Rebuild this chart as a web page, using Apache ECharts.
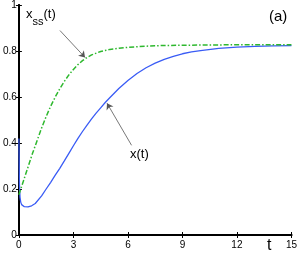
<!DOCTYPE html>
<html><head><meta charset="utf-8">
<script src="https://cdn.jsdelivr.net/npm/echarts@6/dist/echarts.min.js"></script>
<style>html,body{margin:0;padding:0;background:#fff}#c{width:300px;height:254px}</style>
</head><body><div id="c"></div>
<script>
const tBlue = [0, 0.03, 0.06, 0.1, 0.15, 0.2, 0.3, 0.4, 0.5, 0.6, 0.7, 0.8, 0.9, 1, 1.25, 1.5, 1.75, 2, 2.25, 2.5, 2.75, 3, 3.25, 3.5, 3.75, 4, 4.25, 4.5, 4.75, 5, 5.5, 6, 6.5, 7, 7.5, 8, 8.5, 9, 9.5, 10, 11, 12, 13, 14, 15];
const xBlue = [0.42, 0.22, 0.165, 0.143, 0.132, 0.127, 0.123, 0.122, 0.122, 0.124, 0.127, 0.131, 0.137, 0.145, 0.17, 0.2, 0.229, 0.26, 0.29, 0.322, 0.355, 0.388, 0.42, 0.45, 0.478, 0.505, 0.53, 0.553, 0.576, 0.597, 0.637, 0.672, 0.702, 0.727, 0.747, 0.764, 0.777, 0.788, 0.796, 0.802, 0.811, 0.817, 0.82, 0.822, 0.823];
const tGreen = [0, 0.25, 0.5, 0.75, 1, 1.25, 1.5, 1.75, 2, 2.25, 2.5, 2.75, 3, 3.25, 3.5, 3.75, 4, 4.5, 5, 5.5, 6, 7, 8, 10, 12, 15];
const xGreen = [0.175, 0.235, 0.295, 0.355, 0.41, 0.465, 0.515, 0.56, 0.6, 0.636, 0.668, 0.696, 0.72, 0.741, 0.758, 0.772, 0.783, 0.798, 0.807, 0.812, 0.816, 0.821, 0.824, 0.826, 0.827, 0.827];
const xTicks = [0, 3, 6, 9, 12, 15];
const yTicks = [0, 0.2, 0.4, 0.6, 0.8, 1];

const chart = echarts.init(document.getElementById('c'), null, {renderer: 'canvas'});
const font = 'Liberation Sans, Arial, sans-serif';
const axisLine = {show: true, lineStyle: {color: '#000', width: 2}};
const tickIn = {show: true, inside: true, length: 3, lineStyle: {color: '#000', width: 1}};
chart.setOption({
  animation: false,
  grid: {left: 15, right: 6, top: 4, bottom: 19, containLabel: false},
  xAxis: [
    {type: 'value', min: 0, max: 15, interval: 3, position: 'bottom', axisLine, axisTick: tickIn,
     splitLine: {show: false}, axisLabel: {fontSize: 10, color: '#000', fontFamily: font, margin: 5}},
    {type: 'value', min: 0, max: 15, interval: 3, position: 'top', axisLine, axisTick: tickIn,
     splitLine: {show: false}, axisLabel: {show: false}}
  ],
  yAxis: [
    {type: 'value', min: 0, max: 1, interval: 0.2, position: 'left', axisLine, axisTick: tickIn,
     splitLine: {show: false}, axisLabel: {fontSize: 10, color: '#000', fontFamily: font, margin: 2,
       formatter: v => String(Math.round(v * 10) / 10)}},
    {type: 'value', min: 0, max: 1, interval: 0.2, position: 'right', axisLine, axisTick: tickIn,
     splitLine: {show: false}, axisLabel: {show: false}}
  ],
  series: [
    {type: 'line', name: 'x(t)', data: tBlue.map((t, i) => [t, xBlue[i]]), showSymbol: false,
     smooth: false, lineStyle: {color: '#3a5cf5', width: 1.3}, z: 3},
    {type: 'line', name: 'xss(t)', data: tGreen.map((t, i) => [t, xGreen[i]]), showSymbol: false,
     smooth: false, lineStyle: {color: '#2eb82e', width: 1.5, type: [5, 2, 1.5, 2]}, z: 4,
     markLine: {silent: true, symbol: ['none', 'arrow'], symbolSize: 6, label: {show: false},
       lineStyle: {color: '#555', width: 0.8, type: 'solid'},
       data: [
         [{coord: [2.26, 0.889]}, {coord: [3.64, 0.772]}],
         [{coord: [6.2, 0.39]}, {coord: [4.85, 0.573]}]
       ]}}
  ],
  graphic: [
    {type: 'text', left: 26, top: 8, style: {
      text: '{a|x}{s|ss}{a|(t)}', font: '13px ' + font,
      rich: {a: {fontSize: 13, fontFamily: font, fill: '#000', verticalAlign: 'top', padding: [0,0,6,0]},
             s: {fontSize: 11, fontFamily: font, fill: '#000', padding: [8,0,0,0]}}}},
    {type: 'text', left: 130, top: 148, style: {text: 'x(t)', font: '13px ' + font, fill: '#000'}},
    {type: 'text', left: 269, top: 9, style: {text: '(a)', font: '15px ' + font, fill: '#000'}},
    {type: 'text', left: 267, top: 238, style: {text: 't', font: '16px ' + font, fill: '#000'}}
  ]
});
</script></body></html>
